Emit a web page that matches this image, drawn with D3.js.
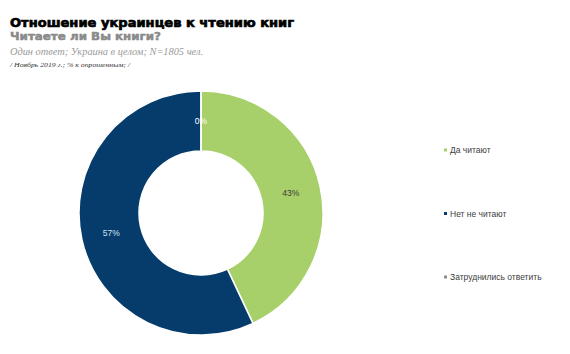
<!DOCTYPE html>
<html>
<head>
<meta charset="utf-8">
<script src="https://cdn.jsdelivr.net/npm/d3@7"></script>
<style>
body{margin:0;background:#fff;}
#canvas{width:570px;height:354px;display:block;}
</style>
</head>
<body>
<svg id="canvas" width="570" height="354"></svg>
<script>
let categories=["Да читают","Нет не читают","Затруднились ответить"];
let values=[43,57,0];
let colors=["#a8d06a","#063c6b","#8c8c8c"];
let labelColors=["#3a3a3a","#cfe3f2","#ffffff"];

let canvas=d3.select("#canvas");
let w=570, h=354;

// titles
canvas.append("text").text("Отношение украинцев к чтению книг")
  .attr("x",10).attr("y",27).attr("textLength",284).attr("lengthAdjust","spacingAndGlyphs")
  .style("font","900 12.5px 'DejaVu Sans'").attr("fill","#000")
  .attr("stroke","#000").attr("stroke-width",0.7);
canvas.append("text").text("Читаете ли Вы книги?")
  .attr("x",10).attr("y",40).attr("textLength",151).attr("lengthAdjust","spacingAndGlyphs")
  .style("font","bold 11px 'DejaVu Sans'").attr("fill","#8a8a8a")
  .attr("stroke","#8a8a8a").attr("stroke-width",0.5);
canvas.append("text").text("Один ответ;  Украина в целом; N=1805 чел.")
  .attr("x",10).attr("y",55).attr("textLength",193).attr("lengthAdjust","spacingAndGlyphs")
  .style("font","italic 10px 'Liberation Serif'").attr("fill","#9a9a9a");
canvas.append("text").text("/ Ноябрь 2019 г.; % к опрошенным; /")
  .attr("x",10).attr("y",67).attr("textLength",120).attr("lengthAdjust","spacingAndGlyphs")
  .style("font","italic 7px 'Liberation Serif'").attr("fill","#333");

// donut
let cx=201, cy=213, rOut=122, rIn=62;
let pie=d3.pie().sort(null).value(d=>d);
let arc=d3.arc().innerRadius(rIn).outerRadius(rOut);
let labelArc=d3.arc().innerRadius((rIn+rOut)/2).outerRadius((rIn+rOut)/2);
let arcs=pie(values);
let g=canvas.append("g").attr("transform","translate("+cx+","+cy+")");
g.selectAll("path").data(arcs).enter().append("path")
  .attr("d",arc).attr("fill",(d,i)=>colors[i]).attr("stroke","#fff").attr("stroke-width",1.5);
g.selectAll("text").data(arcs).enter().append("text")
  .text(d=>d.data+"%")
  .attr("x",d=>labelArc.centroid(d)[0]).attr("y",d=>labelArc.centroid(d)[1]+3)
  .attr("text-anchor","middle")
  .style("font","8.5px 'Liberation Sans'")
  .attr("fill",(d,i)=>labelColors[i]);

// legend
let yLeg=d3.scalePoint().domain(categories).range([150,277]);
let leg=canvas.append("g");
leg.selectAll("rect").data(categories).enter().append("rect")
  .attr("x",444).attr("y",d=>yLeg(d)-1.5).attr("width",3).attr("height",3)
  .attr("fill",(d,i)=>colors[i]);
leg.selectAll("text").data(categories).enter().append("text")
  .text(d=>d)
  .attr("x",450).attr("y",d=>yLeg(d)+3)
  .style("font","8.5px 'Liberation Sans'").attr("fill","#404040");
</script>
</body>
</html>
